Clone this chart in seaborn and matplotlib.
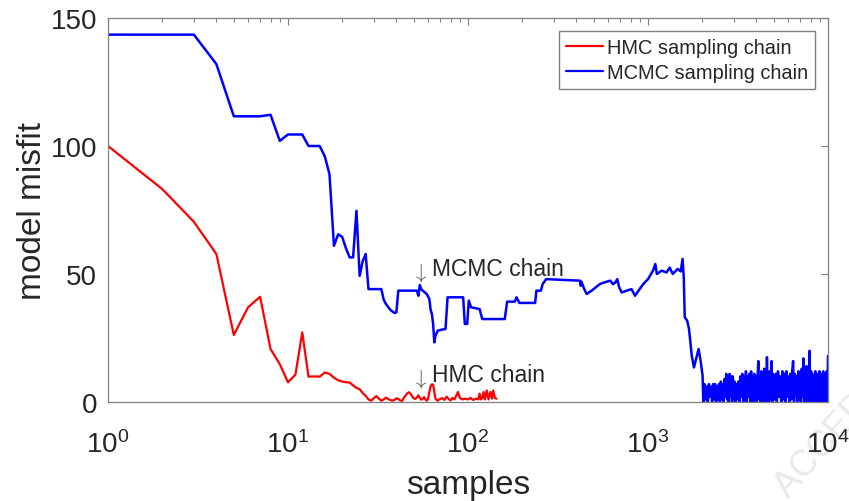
import numpy as np
import pandas as pd
import matplotlib
matplotlib.use('Agg')
import matplotlib.pyplot as plt
import seaborn as sns
from matplotlib.ticker import LogLocator, NullFormatter, FixedLocator

# ---------------- data ----------------
HMC_SAMPLES = [1, 2, 3, 4, 5, 6, 7, 8, 9, 10, 11, 12, 13, 14, 15, 16, 17, 18, 19, 20,
               21, 22, 23, 24, 25, 26, 27, 28, 29, 30, 31, 32, 33, 34, 35, 36, 37, 38, 39, 40,
               41, 42, 43, 44, 45, 46, 47, 48, 49, 50, 51, 52, 53, 54, 55, 56, 57, 58, 59, 60,
               61, 62, 63, 64, 65, 66, 67, 68, 69, 70, 72, 74, 76, 78, 80, 82, 84, 86, 88, 90,
               93, 96, 100, 103, 107, 111, 114, 116, 118, 120, 122, 124, 127, 130, 133, 136,
               138, 141, 144]
HMC_MISFIT = [100, 83.2, 70.4, 57.8, 26.2, 37, 41.1, 20.7, 14.8, 7.7, 10.7, 27.2, 9.9, 10, 9.9,
              11.5, 11, 9.5, 8.5, 8, 7.7, 7.6, 6.5, 5.5, 5, 3.5, 2.4, 1, 0.5, 1.5,
              2.3, 1.3, 0.5, 1, 1.7, 1.2, 0.8, 0.5, 0.8, 1.4, 1.2, 0.6, 0.4, 1.6, 2.5,
              3.4, 3.8, 3.2, 2.2, 1.4, 1.2, 1.8, 2.6, 1.6, 0.9, 1.2, 1.9, 1.0, 0.5, 1.2,
              3.9, 6.2, 6.9, 6.8, 3.9, 1.3, 0.8, 0.5, 1.0, 1.2, 1.5, 0.8, 2.1, 1.2, 0.6,
              1.6, 1.0, 2.4, 3.9, 1.6, 1.0, 1.3, 1.0, 1.6, 0.8, 1.3, 1.0, 3.3, 1.0, 1.5,
              3.9, 1.0, 4.5, 1.0, 3.9, 1.3, 4.5, 1.6, 1.3]

MCMC_SAMPLES = [1, 3, 4, 5, 7, 8, 9, 10, 12, 13, 15, 16, 17, 18, 19, 20, 21, 22, 23, 24,
                25, 26, 27, 28, 33, 34, 35, 37, 39, 40, 41, 52, 53, 54, 55, 56, 59, 61, 62, 63,
                64, 65, 66, 68, 72, 75, 77, 94, 96, 99, 101, 104, 116, 120, 160, 165, 182, 186,
                193, 236, 240, 254, 260, 272, 419, 423, 427, 440, 456, 486, 541, 577, 617, 640,
                660, 675, 690, 714, 762, 810, 847, 886, 942, 1000, 1066, 1098, 1120, 1190, 1267,
                1320, 1373, 1462, 1520, 1556, 1580, 1600, 1650, 1690, 1750, 1800, 1860, 1910,
                1960, 2010]
MCMC_MISFIT = [143.5, 143.5, 132, 111.6, 111.6, 112.2, 102, 104.5, 104.5, 100, 100, 96, 89, 61,
               65.5, 64.5, 60, 56.5, 56.5, 74.7, 49.3, 55, 57.8, 44.1, 44.1, 40, 38.3, 36, 34.8,
               35, 43.5, 43.5, 41.5, 45.7, 44, 43.5, 42.2, 40.2, 36, 34.4, 30.5, 23.3, 26, 27.9,
               28.3, 28.5, 40.9, 40.9, 30.5, 30.5, 39.6, 37, 36.3, 32.4, 32.4, 39.2, 39.2, 40.9,
               38.7, 38.7, 43.5, 43.5, 46.1, 48, 47.4, 45.4, 47, 44.5, 42.2, 43.5, 46.1, 46.8,
               47.4, 46, 46.8, 48, 45, 42.8, 43.5, 44.1, 41.5, 43.5, 46.1, 48, 51.3, 53.9, 50,
               51.3, 50.6, 52.5, 50, 52, 51, 55.9, 48.7, 33.1, 31.8, 28.5, 18.1, 13.5, 17.4,
               20.7, 16.1, 10.3]

# converged (noisy) part of the MCMC chain
MCMC_TAIL_SAMPLES = [2030, 2060, 2090, 2120, 2150, 2180, 2210, 2240, 2270, 2300, 2330, 2360,
                     2390, 2420, 2450, 2480, 2510, 2540, 2570, 2600, 2630, 2660, 2690, 2720,
                     2750, 2780, 2810, 2840, 2870, 2900, 2930, 2960, 2990,
                     3020, 3060, 3100, 3140, 3180, 3220, 3260, 3300, 3340, 3380, 3420, 3460,
                     3500, 3540, 3580, 3620, 3660, 3700, 3740, 3780, 3820, 3860, 3900, 3940,
                     3980, 4020, 4060, 4100, 4140, 4180, 4220, 4260, 4300, 4340, 4380, 4420,
                     4460, 4500, 4540, 4580, 4620, 4660, 4700, 4740, 4780, 4820, 4860, 4900,
                     4940, 4980,
                     5050, 5125, 5200, 5275, 5350, 5425, 5500, 5575, 5650, 5725, 5800, 5875,
                     5950, 6025, 6100, 6175, 6250, 6325, 6400, 6475, 6550, 6625, 6700, 6775,
                     6850, 6925, 7000, 7075, 7150, 7225, 7300, 7375, 7450, 7525, 7600, 7675,
                     7750, 7825, 7900, 7975, 8050, 8125, 8200, 8275, 8350, 8425, 8500, 8575,
                     8650, 8725, 8800, 8875, 8950, 9025, 9100, 9175, 9250, 9325, 9400, 9475,
                     9550, 9625, 9700, 9775, 9850, 9925, 10000]
MCMC_TAIL_MISFIT = [0, 7, 1, 6, 0, 7, 2, 6, 0, 7, 1, 7, 0, 6, 1, 7, 0, 8, 1, 7,
                    0, 9, 2, 11, 1, 10, 0, 11, 2, 10, 0, 10, 1,
                    8, 0, 7, 1, 8, 0, 10, 2, 11, 0, 10, 1, 12, 0, 10, 2, 11, 0, 12, 1,
                    10, 0, 11, 2, 10, 0, 9, 16, 1, 10, 0, 12, 2, 10, 0, 13, 1, 11, 0, 17.5,
                    2, 10, 0, 12, 1, 10, 16, 0, 11, 2,
                    1, 11, 0, 12, 2, 10, 0, 12, 1, 11, 0, 12, 2, 10, 0, 11, 1, 12, 16, 0,
                    11, 2, 10, 0, 12, 1, 10, 0, 13, 2, 17, 0, 11, 1, 14, 0, 10, 2, 20, 0,
                    12, 1, 11, 0, 10, 2, 12, 0, 11, 1, 10, 0, 12, 2, 10, 0, 11, 1, 12, 0,
                    10, 2, 11, 0, 12, 1, 18]

SERIES_NAMES = ['HMC sampling chain', 'MCMC sampling chain']
SERIES_COLORS = ['#ff0000', '#0000ff']
Y_TICKS = [0, 50, 100, 150]

# ---------------- styling ----------------
sns.set_theme(style='white')
plt.rcParams['font.family'] = ['Liberation Sans', 'DejaVu Sans']
plt.rcParams['mathtext.fontset'] = 'custom'
plt.rcParams['mathtext.rm'] = 'Liberation Sans'
plt.rcParams['mathtext.it'] = 'Liberation Sans:italic'
plt.rcParams['mathtext.bf'] = 'Liberation Sans:bold'

fig = plt.figure(figsize=(8.49, 5.02), dpi=100)
ax = fig.add_axes([108 / 849, 1 - 403 / 502, 720 / 849, 384 / 502])

hmc = pd.DataFrame({'samples': HMC_SAMPLES, 'misfit': HMC_MISFIT, 'chain': SERIES_NAMES[0]})
mcmc = pd.DataFrame({'samples': MCMC_SAMPLES + MCMC_TAIL_SAMPLES,
                     'misfit': MCMC_MISFIT + MCMC_TAIL_MISFIT,
                     'chain': SERIES_NAMES[1]})
df = pd.concat([hmc, mcmc], ignore_index=True)

sns.lineplot(data=df, x='samples', y='misfit', hue='chain',
             palette=dict(zip(SERIES_NAMES, SERIES_COLORS)),
             estimator=None, sort=False, linewidth=1.6, ax=ax)
for ln in ax.lines:
    if ln.get_color() == '#0000ff':
        ln.set_linewidth(1.8)

ax.set_xscale('log')
ax.set_xlim(1, 1e4)
ax.set_ylim(0, 150)
ax.yaxis.set_major_locator(FixedLocator(Y_TICKS))
ax.xaxis.set_major_locator(LogLocator(base=10, numticks=10))
ax.xaxis.set_minor_locator(LogLocator(base=10, subs=np.arange(2, 10), numticks=20))
ax.xaxis.set_minor_formatter(NullFormatter())

ax.set_xlabel('samples', fontsize=24, color='#262626', labelpad=8)
ax.set_ylabel('model misfit', fontsize=24, color='#262626', labelpad=2)

for s in ax.spines.values():
    s.set_color('#808080')
    s.set_linewidth(0.9)
ax.tick_params(which='both', direction='in', top=True, right=True, color='#808080',
               labelcolor='#262626', width=0.8)
ax.tick_params(axis='x', which='major', length=5, labelsize=20, pad=20)
ax.tick_params(axis='x', which='minor', length=3)
ax.tick_params(axis='y', which='major', length=5, labelsize=20, pad=8)
ax.grid(False)

handles, labels = ax.get_legend_handles_labels()
leg = ax.legend(handles, labels, loc='upper right', fontsize=14.4, frameon=True,
                fancybox=False, framealpha=1, edgecolor='#808080',
                handlelength=1.85, handletextpad=0.2, borderaxespad=0.65,
                borderpad=0.35, labelspacing=0.3)
leg.get_frame().set_linewidth(1.0)
for lh in leg.get_lines():
    lh.set_linewidth(1.6)

# annotations
ax.text(54, 48.5, r'$\downarrow$', color='#555555', fontsize=15, ha='center',
        va='baseline', math_fontfamily='cm')
ax.text(63.4, 49.6, 'MCMC chain', color='#262626', fontsize=16.5, ha='left', va='baseline')
ax.text(54, 7.2, r'$\downarrow$', color='#555555', fontsize=15, ha='center',
        va='baseline', math_fontfamily='cm')
ax.text(63.4, 8.3, 'HMC chain', color='#262626', fontsize=16.5, ha='left', va='baseline')

# faint journal watermark (outside the axes)
fig.text(0.905, -0.005, 'ACCEPTED MANUSCRIPT', rotation=48, fontsize=26, color='#e9e9e9',
         ha='left', va='bottom', zorder=-1)

fig.savefig('out.png', dpi=100)
